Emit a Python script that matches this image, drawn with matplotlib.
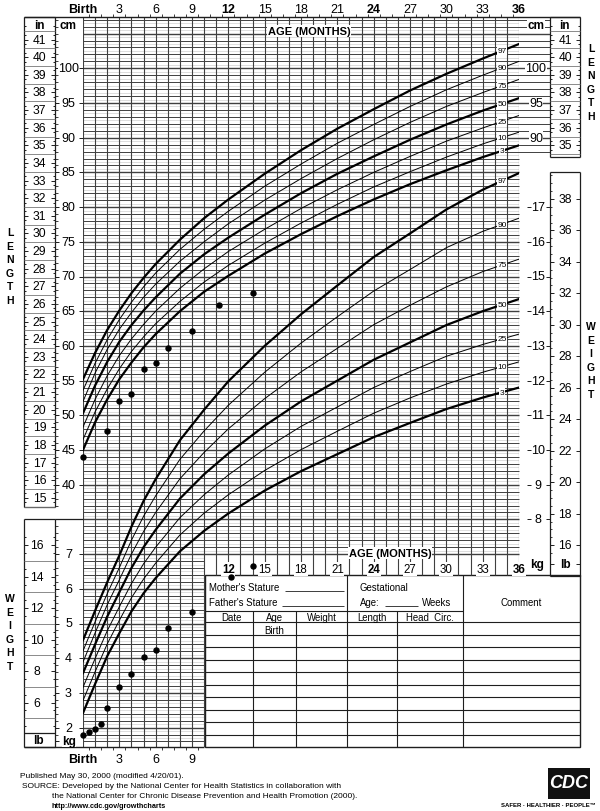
import numpy as np
import matplotlib.pyplot as plt
from matplotlib.patches import Rectangle

plt.rcParams['font.family'] = ['Liberation Sans', 'DejaVu Sans']

# ==========================================================
# Values
# ==========================================================
months = [0, 1, 2, 3, 4, 5, 6, 8, 10, 12, 15, 18, 21, 24, 27, 30, 33, 36]

# length-for-age percentiles (cm)
len_p3 = [45.0, 49.0, 52.3, 55.2, 57.6, 59.8, 61.7, 65.0, 67.8, 70.1, 73.3, 76.1, 78.7, 81.1, 83.3, 85.3, 87.2, 88.9]
len_p10 = [46.5, 50.5, 53.8, 56.7, 59.2, 61.3, 63.2, 66.4, 69.2, 71.6, 74.8, 77.7, 80.4, 82.9, 85.1, 87.2, 89.1, 90.8]
len_p25 = [48.3, 52.3, 55.7, 58.6, 61.0, 63.1, 65.0, 68.3, 71.1, 73.6, 76.8, 79.8, 82.5, 85.0, 87.3, 89.5, 91.4, 93.2]
len_p50 = [50.3, 54.3, 57.7, 60.6, 63.0, 65.1, 67.0, 70.4, 73.2, 75.6, 78.9, 82.0, 84.8, 87.3, 89.7, 91.9, 93.9, 95.7]
len_p75 = [52.0, 56.1, 59.5, 62.4, 64.8, 67.0, 68.9, 72.2, 75.0, 77.6, 81.0, 84.1, 87.0, 89.7, 92.2, 94.5, 96.5, 98.4]
len_p90 = [53.6, 57.5, 60.9, 63.8, 66.3, 68.5, 70.5, 73.9, 76.8, 79.4, 83.0, 86.2, 89.2, 91.9, 94.5, 96.9, 99.0, 101.0]
len_p97 = [55.2, 59.0, 62.3, 65.1, 67.6, 69.8, 71.8, 75.3, 78.4, 81.1, 84.8, 88.2, 91.3, 94.1, 96.8, 99.2, 101.4, 103.5]

# weight-for-age percentiles (kg)
wt_p3 = [2.42, 3.26, 4.06, 4.72, 5.35, 5.87, 6.31, 7.08, 7.67, 8.17, 8.83, 9.39, 9.88, 10.37, 10.78, 11.18, 11.51, 11.8]
wt_p10 = [2.78, 3.61, 4.41, 5.09, 5.74, 6.28, 6.74, 7.55, 8.18, 8.71, 9.41, 10.01, 10.54, 11.06, 11.5, 11.9, 12.24, 12.54]
wt_p25 = [3.16, 3.99, 4.79, 5.48, 6.15, 6.72, 7.2, 8.05, 8.71, 9.28, 10.03, 10.68, 11.24, 11.8, 12.26, 12.7, 13.04, 13.34]
wt_p50 = [3.57, 4.4, 5.2, 5.9, 6.6, 7.2, 7.7, 8.6, 9.3, 9.9, 10.7, 11.4, 12.0, 12.6, 13.1, 13.6, 14.0, 14.35]
wt_p75 = [3.89, 4.73, 5.54, 6.26, 7.0, 7.65, 8.2, 9.17, 9.93, 10.61, 11.48, 12.25, 12.93, 13.61, 14.17, 14.7, 15.14, 15.5]
wt_p90 = [4.21, 5.05, 5.86, 6.61, 7.40, 8.09, 8.68, 9.73, 10.55, 11.29, 12.24, 13.08, 13.84, 14.58, 15.2, 15.83, 16.3, 16.68]
wt_p97 = [4.52, 5.37, 6.19, 6.96, 7.79, 8.53, 9.16, 10.28, 11.16, 11.98, 13.0, 13.91, 14.74, 15.56, 16.24, 16.93, 17.5, 17.98]

pct_names = ['3', '10', '25', '50', '75', '90', '97']
bold_pct = ['3', '50', '97']

# the child's measurements
len_ages = [0, 2, 3, 4, 5, 6, 7, 9, 11.25, 14]
len_vals = [44.0, 47.8, 52.0, 53.0, 56.7, 57.5, 59.7, 62.1, 65.9, 67.6]
wt_ages = [0, 0.5, 1, 1.5, 2, 3, 4, 5, 6, 7, 9, 12.25, 14]
wt_vals = [1.78, 1.88, 1.96, 2.11, 2.57, 3.17, 3.55, 4.03, 4.23, 4.87, 5.33, 6.34, 6.67]

age_ticks = [0, 3, 6, 9, 12, 15, 18, 21, 24, 27, 30, 33, 36]
age_labels = ['Birth', '3', '6', '9', '12', '15', '18', '21', '24', '27', '30', '33', '36']
bold_ages = ['Birth', '12', '24', '36']

inch_left = list(range(15, 42))
inch_right = list(range(35, 42))
cm_left = list(range(40, 101, 5))
cm_right = [90, 95, 100]
kg_right = list(range(8, 18))
lb_right = list(range(16, 39, 2))
kg_left = list(range(2, 8))
lb_left = list(range(6, 17, 2))

# ==========================================================
# Page geometry (pixels of the 600 x 812 sheet)
# ==========================================================
def mo(px):
    return (px - 83) / 12.11

def cmv(py):
    return 100 - (py - 69.3) / 6.94

def kg_to_cm(k):
    return 5 * np.asarray(k, dtype=float) - 5

L_TOP = cmv(18)
L_BOT = cmv(748)
TABLE_TOP = cmv(576)
INK = '#1e1e1e'
GRID = '#404040'
FAINT = '#c4c4c4'

fig = plt.figure(figsize=(6, 8.12), dpi=100)
ax = fig.add_axes([83 / 600, 1 - 748 / 812, 436 / 600, 730 / 812])
ax.set_xlim(0, 36)
ax.set_ylim(L_BOT, L_TOP)
ax.axis('off')
axw = ax.twinx()
axw.set_ylim((L_BOT + 5) / 5, (L_TOP + 5) / 5)
axw.axis('off')

# ==========================================================
# Grid
# ==========================================================
for m in range(37):
    lo = L_BOT if m <= 10 else TABLE_TOP
    ax.vlines(m, lo, L_TOP, color=GRID, lw=0.8, zorder=1)

for v in range(3, 108):
    right = 36 if v >= 30 else 10
    if v >= cmv(158):
        right = mo(550)
    lw = 1.0 if v % 5 == 0 else 0.7
    ax.hlines(v, 0, right, color=GRID, lw=lw, zorder=1, clip_on=False)
    hv = v + 0.5
    if hv < L_TOP:
        r2 = 36 if hv >= 30 else 10
        ax.hlines(hv, 0, r2, color=FAINT, lw=0.4, zorder=0.9)

ax.hlines(L_TOP, mo(24), mo(580), color=INK, lw=1.0, clip_on=False)
ax.hlines(L_BOT, mo(24), 10, color=INK, lw=1.0, clip_on=False)
half = np.arange(0.5, 36, 1)
ax.vlines(half, L_TOP, L_TOP + 0.5, color=INK, lw=0.6, clip_on=False)
ax.vlines(half[half < 10], L_BOT - 0.5, L_BOT, color=INK, lw=0.6, clip_on=False)

# ==========================================================
# Percentile curves
# ==========================================================
len_curves = [len_p3, len_p10, len_p25, len_p50, len_p75, len_p90, len_p97]
wt_curves = [wt_p3, wt_p10, wt_p25, wt_p50, wt_p75, wt_p90, wt_p97]
lab_x = 34.6
for name, lc, wc in zip(pct_names, len_curves, wt_curves):
    lw = 1.6 if name in bold_pct else 0.7
    ax.plot(months, lc, color='black', lw=lw, zorder=3)
    axw.plot(months, wc, color='black', lw=lw, zorder=3)
    ax.text(lab_x, np.interp(lab_x, months, lc), name, fontsize=6, ha='center', va='center',
            zorder=4, bbox=dict(fc='white', ec='none', pad=0.3))
    axw.text(lab_x, np.interp(lab_x, months, wc), name, fontsize=6, ha='center', va='center',
             zorder=4, bbox=dict(fc='white', ec='none', pad=0.3))

ax.plot(len_ages, len_vals, 'o', color='black', ms=3.6, zorder=5, clip_on=False)
axw.plot(wt_ages, wt_vals, 'o', color='black', ms=3.6, zorder=5, clip_on=False)

# ==========================================================
# Age labels
# ==========================================================
for t, lab in zip(age_ticks, age_labels):
    fw = 'bold' if lab in bold_ages else 'normal'
    ax.text(t, cmv(10), lab, fontsize=9, ha='center', va='center', fontweight=fw)
    if t <= 9:
        ax.text(t, cmv(760), lab, fontsize=9, ha='center', va='center', fontweight=fw)
    else:
        ax.text(t, cmv(570), lab, fontsize=8.3, ha='center', va='center', fontweight=fw,
                zorder=4, bbox=dict(fc='white', ec='none', pad=0.5))

ax.text(mo(309), cmv(32), 'AGE (MONTHS)', fontsize=8, fontweight='bold', ha='center',
        va='center', zorder=4, bbox=dict(fc='white', ec='none', pad=0.8))
ax.text(mo(390), cmv(554), 'AGE (MONTHS)', fontsize=8, fontweight='bold', ha='center',
        va='center', zorder=4, bbox=dict(fc='white', ec='none', pad=0.8))

# ==========================================================
# Side rulers
# ==========================================================
def box(xa, xb, lo, hi):
    ax.vlines([xa, xb], lo, hi, color=INK, lw=0.9, clip_on=False)
    ax.hlines([lo, hi], xa, xb, color=INK, lw=0.9, clip_on=False)

def dashes(xa, xb, ys, n=0.33):
    ax.hlines(ys, xa, xa + n, color=INK, lw=0.7, clip_on=False)
    ax.hlines(ys, xb - n, xb, color=INK, lw=0.7, clip_on=False)

# left inch column
xa, xb, lo = mo(24), mo(55), cmv(508)
box(xa, xb, lo, L_TOP)
hl = np.array([2.54 * (i + 0.5) for i in range(14, 42)])
hl = hl[(hl > lo) & (hl < L_TOP)]
ax.hlines(hl, xa, xb, color='#777777', lw=0.6, clip_on=False)
qt = np.array([2.54 * (i + f) for i in range(14, 42) for f in (0.25, 0.75)])
qt = qt[(qt > lo) & (qt < L_TOP)]
dashes(xa, xb, qt, 0.2)
dashes(xa, xb, [2.54 * i for i in inch_left])
for i in inch_left:
    ax.text(mo(39.5), 2.54 * i, str(i), fontsize=8.7, ha='center', va='center')
ax.text(mo(39.5), cmv(26), 'in', fontsize=8.5, ha='center', va='center', fontweight='bold')

# left cm column
xa2 = mo(55)
cm_ticks = np.arange(37, 108)
ax.hlines(cm_ticks, xa2, xa2 + 0.22, color=INK, lw=0.6, clip_on=False)
dashes(xa2, 0, cm_left, 0.3)
for c in cm_left:
    ax.text(mo(68.5), c, str(c), fontsize=9, ha='center', va='center',
            bbox=dict(fc='white', ec='none', pad=0.1))
ax.text(mo(68), cmv(26), 'cm', fontsize=8.5, ha='center', va='center', fontweight='bold',
        bbox=dict(fc='white', ec='none', pad=0.2))

# right upper: cm labels + inch box
for c in cm_right:
    ax.text(mo(536), c, str(c), fontsize=9, ha='center', va='center',
            bbox=dict(fc='white', ec='none', pad=0.3))
ax.text(mo(536), cmv(26), 'cm', fontsize=8.5, ha='center', va='center', fontweight='bold',
        bbox=dict(fc='white', ec='none', pad=0.3))
xa, xb, lo = mo(550), mo(580), cmv(158)
box(xa, xb, lo, L_TOP)
hl = np.array([2.54 * (i + 0.5) for i in range(34, 42)])
hl = hl[(hl > lo) & (hl < L_TOP)]
ax.hlines(hl, xa, xb, color='#777777', lw=0.6, clip_on=False)
qt = np.array([2.54 * (i + f) for i in range(34, 42) for f in (0.25, 0.75)])
qt = qt[(qt > lo) & (qt < L_TOP)]
dashes(xa, xb, qt, 0.2)
dashes(xa, xb, [2.54 * i for i in inch_right])
for i in inch_right:
    ax.text(mo(565), 2.54 * i, str(i), fontsize=8.7, ha='center', va='center')
ax.text(mo(564), cmv(26), 'in', fontsize=8.5, ha='center', va='center', fontweight='bold')

# right lower: kg labels + lb box
ax.hlines(kg_to_cm(kg_right), mo(527), mo(531), color=INK, lw=0.7, clip_on=False)
ax.hlines(kg_to_cm(kg_right), mo(546), mo(550), color=INK, lw=0.7, clip_on=False)
for k in kg_right:
    ax.text(mo(538), kg_to_cm(k), str(k), fontsize=9, ha='center', va='center')
ax.text(mo(537), cmv(565), 'kg', fontsize=8.5, ha='center', va='center', fontweight='bold')
xa, xb, lo, hi = mo(550), mo(580), cmv(577), cmv(173)
box(xa, xb, lo, hi)
lb_half = np.arange(15.5, 40, 0.5)
lbh = kg_to_cm(lb_half * 0.45359)
lbh = lbh[(lbh > cmv(556)) & (lbh < hi)]
ax.hlines(lbh, xa, xa + 0.2, color=INK, lw=0.6, clip_on=False)
dashes(xa, xb, kg_to_cm(np.array(lb_right) * 0.45359))
for p in lb_right:
    ax.text(mo(565), kg_to_cm(p * 0.45359), str(p), fontsize=8.7, ha='center', va='center')
dashes(xa, xb, [cmv(565)])
ax.text(mo(565), cmv(565), 'lb', fontsize=8.5, ha='center', va='center', fontweight='bold')

# left lower: lb box + kg column
xa, xb, hi = mo(24), mo(55), cmv(520)
box(xa, xb, L_BOT, hi)
ax.hlines(hi, xb, 0, color=INK, lw=0.9, clip_on=False)
lbo = kg_to_cm(np.arange(5, 17, 2) * 0.45359)
ax.hlines(lbo[lbo > cmv(733)], xa, xb, color='#777777', lw=0.6, clip_on=False)
lbq = kg_to_cm(np.arange(4.5, 17, 1) * 0.45359)
dashes(xa, xb, lbq[lbq > cmv(733)], 0.2)
dashes(xa, xb, kg_to_cm(np.array(lb_left) * 0.45359))
for p in lb_left:
    ax.text(mo(37), kg_to_cm(p * 0.45359), str(p), fontsize=8.7, ha='center', va='center')
ax.hlines(cmv(734), xa, xb, color=INK, lw=0.9, clip_on=False)
ax.text(mo(38), cmv(741), 'lb', fontsize=8.5, ha='center', va='center', fontweight='bold')
kt = np.arange(3, int(hi) + 1)
ax.hlines(kt, xb, xb + 0.22, color=INK, lw=0.6, clip_on=False)
dashes(xb, 0, kg_to_cm(kg_left), 0.3)
for k in kg_left:
    ax.text(mo(68.5), kg_to_cm(k), str(k), fontsize=9, ha='center', va='center',
            bbox=dict(fc='white', ec='none', pad=0.1))
ax.hlines(cmv(742), xb, xb + 0.3, color=INK, lw=0.7, clip_on=False)
ax.text(mo(69), cmv(742), 'kg', fontsize=8.5, ha='center', va='center', fontweight='bold',
        bbox=dict(fc='white', ec='none', pad=0.1))

# ==========================================================
# Record table
# ==========================================================
axt = fig.add_axes([205 / 600, 1 - 748 / 812, 375 / 600, 172 / 812])
axt.set_zorder(-1)
axt.set_xlim(205, 580)
axt.set_ylim(748, 576)
axt.axis('off')
axt.add_patch(Rectangle((205, 576), 375, 172, fc='none', ec=INK, lw=1.0, clip_on=False))
axt.hlines(612, 205, 463, color=INK, lw=0.8)
axt.hlines(np.arange(623, 748, 12.5), 205, 580, color=INK, lw=0.8)
axt.vlines([253, 296, 397], 612, 748, color=INK, lw=0.8)
axt.vlines([347, 463], 576, 748, color=INK, lw=0.8)
fs = 6.9
axt.text(209, 588, "Mother's Stature", fontsize=fs, va='center')
axt.hlines(591.5, 285, 344, color=INK, lw=0.6)
axt.text(209, 603, "Father's Stature", fontsize=fs, va='center')
axt.hlines(606.5, 282, 344, color=INK, lw=0.6)
axt.text(360, 588, 'Gestational', fontsize=fs, va='center')
axt.text(360, 603, 'Age:', fontsize=fs, va='center')
axt.hlines(606.5, 385, 418, color=INK, lw=0.6)
axt.text(422, 603, 'Weeks', fontsize=fs, va='center')
axt.text(521, 603, 'Comment', fontsize=fs, va='center', ha='center')
for xc, t in zip([231, 274.5, 321.5, 372, 430], ['Date', 'Age', 'Weight', 'Length', 'Head  Circ.']):
    axt.text(xc, 618, t, fontsize=fs, va='center', ha='center')
axt.text(274.5, 631, 'Birth', fontsize=fs, va='center', ha='center')

# ==========================================================
# Side captions and footer
# ==========================================================
def fxy(x, y):
    return x / 600, 1 - y / 812

cap = dict(fontsize=7.5, fontweight='bold', ha='center', va='center', linespacing=1.45)
fig.text(*fxy(10, 267), 'L\nE\nN\nG\nT\nH', **cap)
fig.text(*fxy(591, 83), 'L\nE\nN\nG\nT\nH', **cap)
fig.text(*fxy(591, 361), 'W\nE\nI\nG\nH\nT', **cap)
fig.text(*fxy(10, 633), 'W\nE\nI\nG\nH\nT', **cap)

ft = 6.0
fig.text(*fxy(20, 777), 'Published May 30, 2000 (modified 4/20/01).', fontsize=ft, va='center')
fig.text(*fxy(22, 787), 'SOURCE: Developed by the National Center for Health Statistics in collaboration with',
         fontsize=ft, va='center')
fig.text(*fxy(52, 797), 'the National Center for Chronic Disease Prevention and Health Promotion (2000).',
         fontsize=ft, va='center')
fig.text(*fxy(52, 807), 'http://www.cdc.gov/growthcharts', fontsize=5.2, va='center', fontweight='bold')

fig.patches.append(Rectangle(fxy(548, 800), 42 / 600, 31 / 812, transform=fig.transFigure,
                             fc='#111111', ec='none'))
fig.text(*fxy(569, 784), 'CDC', fontsize=13, fontweight='bold', fontstyle='italic', color='white',
         ha='center', va='center')
fig.text(*fxy(548, 806), 'SAFER \u00b7 HEALTHIER \u00b7 PEOPLE\u2122', fontsize=4.3, fontweight='bold',
         ha='center', va='center')

fig.savefig('out.png', dpi=100)
